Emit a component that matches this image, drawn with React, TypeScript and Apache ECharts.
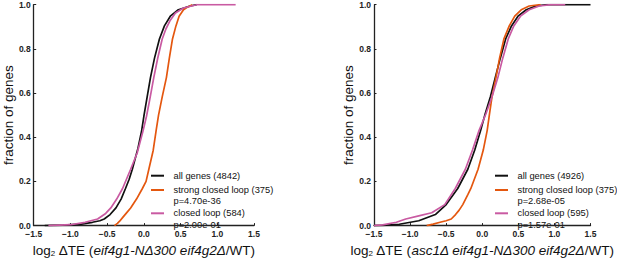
import React, { useEffect, useRef } from "react";
import * as echarts from "echarts";

// ---------- data ----------
const xTicks = [-1.5, -1.0, -0.5, 0.0, 0.5, 1.0, 1.5];
const yTicks = [0.0, 0.2, 0.4, 0.6, 0.8, 1.0];

// left panel: eif4g1-NΔ300 eif4g2Δ / WT
const leftAll: [number, number][] = [
  [-1.35, 0], [-1.1, 0.002], [-0.85, 0.007], [-0.7, 0.015], [-0.6, 0.022], [-0.54, 0.03],
  [-0.46, 0.05], [-0.38, 0.08], [-0.31, 0.12], [-0.25, 0.168], [-0.2, 0.21], [-0.157, 0.255],
  [-0.08, 0.35], [-0.03, 0.43], [0.0, 0.495], [0.045, 0.583], [0.09, 0.67], [0.145, 0.758],
  [0.212, 0.845], [0.28, 0.904], [0.36, 0.948], [0.47, 0.977], [0.63, 0.994], [0.72, 1.0],
];
const leftStrong: [number, number][] = [
  [-0.4, 0], [-0.36, 0.01], [-0.33, 0.02], [-0.29, 0.036], [-0.23, 0.06], [-0.18, 0.08],
  [-0.1, 0.12], [-0.02, 0.168], [0.03, 0.2], [0.068, 0.255], [0.127, 0.34], [0.167, 0.43],
  [0.2, 0.5], [0.25, 0.583], [0.307, 0.67], [0.347, 0.758], [0.39, 0.845], [0.437, 0.904],
  [0.48, 0.948], [0.54, 0.977], [0.6, 0.99], [0.66, 1.0],
];
const leftClosed: [number, number][] = [
  [-1.3, 0], [-1.0, 0.004], [-0.8, 0.015], [-0.63, 0.03], [-0.52, 0.055], [-0.45, 0.08],
  [-0.37, 0.12], [-0.29, 0.168], [-0.18, 0.255], [-0.09, 0.33], [-0.01, 0.43], [0.036, 0.495],
  [0.08, 0.57], [0.135, 0.67], [0.19, 0.76], [0.25, 0.845], [0.3, 0.89], [0.36, 0.93],
  [0.43, 0.962], [0.54, 0.985], [0.72, 1.0], [1.25, 1.0],
];

// right panel: asc1Δ eif4g1-NΔ300 eif4g2Δ / WT
const rightAll: [number, number][] = [
  [-1.5, 0], [-1.38, 0.001], [-1.15, 0.006], [-0.88, 0.022], [-0.65, 0.05], [-0.5, 0.095],
  [-0.34, 0.168], [-0.2, 0.255], [-0.104, 0.342], [-0.023, 0.43], [0.04, 0.505], [0.113, 0.583],
  [0.18, 0.67], [0.25, 0.758], [0.324, 0.845], [0.405, 0.904], [0.495, 0.948], [0.61, 0.977],
  [0.74, 0.994], [0.9, 1.0], [1.5, 1.0],
];
const rightStrong: [number, number][] = [
  [-0.77, 0], [-0.68, 0.007], [-0.585, 0.015], [-0.5, 0.022], [-0.43, 0.03], [-0.37, 0.05],
  [-0.32, 0.07], [-0.27, 0.095], [-0.2, 0.14], [-0.158, 0.168], [-0.058, 0.255], [0.014, 0.342],
  [0.068, 0.43], [0.1, 0.505], [0.135, 0.583], [0.19, 0.67], [0.24, 0.758], [0.3, 0.845],
  [0.374, 0.904], [0.45, 0.948], [0.54, 0.977], [0.65, 0.994], [0.81, 1.0],
];
const rightClosed: [number, number][] = [
  [-1.5, 0], [-1.38, 0.003], [-1.19, 0.015], [-1.06, 0.03], [-0.88, 0.044], [-0.7, 0.058],
  [-0.52, 0.095], [-0.374, 0.168], [-0.234, 0.255], [-0.135, 0.342], [-0.045, 0.43], [0.05, 0.505],
  [0.135, 0.583], [0.216, 0.67], [0.284, 0.758], [0.36, 0.845], [0.437, 0.904], [0.53, 0.948],
  [0.65, 0.977], [0.79, 0.994], [0.95, 1.0], [1.15, 1.0],
];

const leftLegend = ["all genes (4842)", "strong closed loop (375)", "closed loop (584)"];
const leftPvals = ["", "p=4.70e-36", "p=2.00e-01"];
const rightLegend = ["all genes (4926)", "strong closed loop (375)", "closed loop (595)"];
const rightPvals = ["", "p=2.68e-05", "p=1.57e-01"];

const colors = ["#111111", "#e4570f", "#c95aa2"];
const FONT = "'Liberation Sans', Arial, Helvetica, sans-serif";

function fmtTick(v: number) {
  return (v < 0 ? "\u2212" : "") + Math.abs(v).toFixed(1);
}

export default function App() {
  const ref = useRef<HTMLDivElement>(null);
  useEffect(() => {
    if (!ref.current) return;
    const chart = echarts.init(ref.current, undefined, { renderer: "svg" });

    const grids = [
      { left: 32, top: 4.7, width: 222, height: 228.6 },
      { left: 374, top: 4.7, width: 222, height: 228.6 },
    ];
    const nameGapsY = [13, 17];
    const xNames = [
      "{n|log}{s|2}{n| \u0394TE (}{i|eif4g1-N\u0394300 eif4g2\u0394}{n|/WT)}",
      "{n|log}{s|2}{n| \u0394TE (}{i|asc1\u0394 eif4g1-N\u0394300 eif4g2\u0394}{n|/WT)}",
    ];
    const rich = {
      n: { fontSize: 13.5, fontFamily: FONT, color: "#111" },
      i: { fontSize: 13.5, fontFamily: FONT, fontStyle: "italic", color: "#111" },
      s: { fontSize: 8, fontFamily: FONT, color: "#111", verticalAlign: "bottom", lineHeight: 8 },
    };
    const axisLine = { show: true, onZero: false, lineStyle: { color: "#222", width: 1.3 } };
    const axisTick = { show: true, inside: true, length: 2.5, lineStyle: { color: "#222", width: 1 } };
    const lbl = { fontSize: 8.5, fontWeight: "bold", fontFamily: FONT, color: "#222", lineHeight: 8 };

    const xAxis = grids.map((_, gi) => ({
      type: "value",
      gridIndex: gi,
      min: xTicks[0],
      max: xTicks[xTicks.length - 1],
      interval: 0.5,
      axisLine,
      axisTick,
      splitLine: { show: false },
      axisLabel: { ...lbl, margin: 4, formatter: fmtTick },
      name: xNames[gi],
      nameLocation: "middle",
      nameGap: 14,
      nameTextStyle: { rich },
    }));
    const yAxis = grids.map((_, gi) => ({
      type: "value",
      gridIndex: gi,
      min: yTicks[0],
      max: yTicks[yTicks.length - 1],
      interval: 0.2,
      axisLine,
      axisTick,
      splitLine: { show: false },
      axisLabel: { ...lbl, margin: 3, formatter: (v: number) => v.toFixed(1) },
      name: "fraction of genes",
      nameLocation: "middle",
      nameGap: nameGapsY[gi],
      nameTextStyle: { fontSize: 13.5, fontFamily: FONT, color: "#111" },
    }));

    const panels = [
      { data: [leftAll, leftStrong, leftClosed], legend: leftLegend, pvals: leftPvals, lx: 151 },
      { data: [rightAll, rightStrong, rightClosed], legend: rightLegend, pvals: rightPvals, lx: 495 },
    ];
    const series: any[] = [];
    const graphic: any[] = [];
    const rowY = [175.7, 190, 213.3];
    panels.forEach((p, gi) => {
      p.data.forEach((d, si) => {
        series.push({
          type: "line",
          name: p.legend[si],
          xAxisIndex: gi,
          yAxisIndex: gi,
          data: d,
          showSymbol: false,
          symbol: "none",
          lineStyle: { color: colors[si], width: 1.7 },
          z: 2 + si,
        });
        graphic.push({
          type: "line",
          shape: { x1: p.lx, y1: rowY[si], x2: p.lx + 13, y2: rowY[si] },
          style: { stroke: colors[si], lineWidth: 2 },
        });
        graphic.push({
          type: "text",
          x: p.lx + 22.5,
          y: rowY[si],
          style: { text: p.legend[si], fontSize: 9.3, fontFamily: FONT, fill: "#111", textVerticalAlign: "middle" },
        });
        if (p.pvals[si]) {
          graphic.push({
            type: "text",
            x: p.lx + 22.5,
            y: rowY[si] + 11.4,
            style: { text: p.pvals[si], fontSize: 9.3, fontFamily: FONT, fill: "#111", textVerticalAlign: "middle" },
          });
        }
      });
    });

    chart.setOption({
      animation: false,
      backgroundColor: "#ffffff",
      grid: grids,
      xAxis,
      yAxis,
      series,
      graphic,
    });
    return () => chart.dispose();
  }, []);
  return (
    <div
      ref={ref}
      style={{ position: "fixed", left: 0, top: 0, width: 617, height: 262 }}
    />
  );
}
